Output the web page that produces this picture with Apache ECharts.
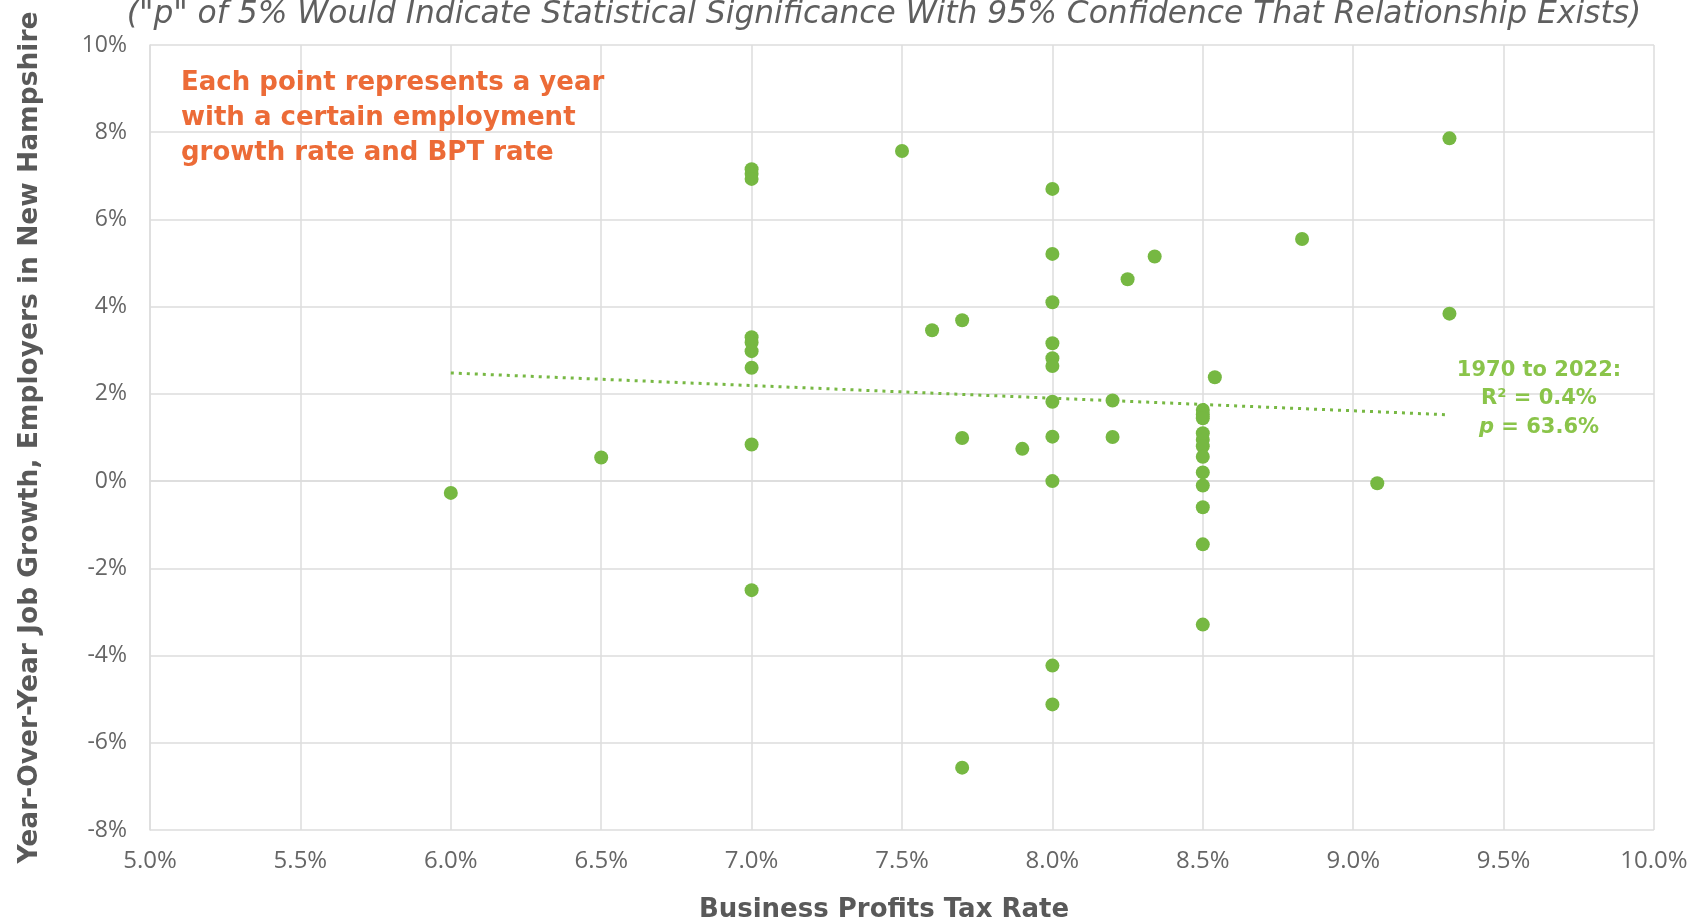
<!DOCTYPE html>
<html>
<head>
<meta charset="utf-8">
<script src="https://cdn.jsdelivr.net/npm/echarts@6/dist/echarts.min.js"></script>
<style>
html,body{margin:0;padding:0;background:#fff;}
#chart{width:1697px;height:922px;}
</style>
</head>
<body>
<div id="chart"></div>
<script>
// Business Profits Tax rate (%) for each year
const bptRate = [6.0, 6.5, 7.0, 7.0, 7.0, 7.0, 7.0, 7.0, 7.0, 7.0, 7.0, 7.5, 7.6, 7.7, 7.7, 7.7, 7.9,
  8.0, 8.0, 8.0, 8.0, 8.0, 8.0, 8.0, 8.0, 8.0, 8.0, 8.0,
  8.2, 8.2, 8.25, 8.34,
  8.5, 8.5, 8.5, 8.5, 8.5, 8.5, 8.5, 8.5, 8.5, 8.5, 8.5, 8.5,
  8.54, 8.83, 9.08, 9.32, 9.32];
// Year-over-year job growth (%) for each year
const jobGrowth = [-0.27, 0.54, 7.15, 7.05, 6.93, 3.30, 3.18, 2.98, 2.60, 0.84, -2.50, 7.57, 3.46, 3.69, 0.99, -6.57, 0.74,
  6.70, 5.21, 4.10, 3.16, 2.82, 2.64, 1.82, 1.02, 0.00, -4.23, -5.12,
  1.85, 1.01, 4.63, 5.15,
  1.63, 1.53, 1.44, 1.10, 0.95, 0.80, 0.56, 0.20, -0.10, -0.60, -1.45, -3.29,
  2.38, 5.55, -0.05, 7.86, 3.84];
// Linear trend line endpoints
const trendX = [6.0, 9.32];
const trendY = [2.48, 1.52];
// Axis ticks
const xTicks = [5.0, 5.5, 6.0, 6.5, 7.0, 7.5, 8.0, 8.5, 9.0, 9.5, 10.0];
const yTicks = [-8, -6, -4, -2, 0, 2, 4, 6, 8, 10];

const points = bptRate.map((x, i) => [x, jobGrowth[i]]);
const trend = trendX.map((x, i) => [x, trendY[i]]);

const chart = echarts.init(document.getElementById('chart'), null, {renderer: 'canvas'});
const gridColor = '#dcdcdc';
const FONT = '"Open Sans", "Noto Sans", sans-serif';
const WIDE = '"DejaVu Sans", "Open Sans", sans-serif';

chart.setOption({
  animation: false,
  backgroundColor: '#ffffff',
  grid: {left: 150, right: 43, top: 45, bottom: 92, containLabel: false, outerBoundsMode: 'none'},
  xAxis: {
    type: 'value',
    min: xTicks[0], max: xTicks[xTicks.length - 1], interval: 0.5,
    axisLine: {show: true, lineStyle: {color: gridColor, width: 1.5}},
    axisTick: {show: false},
    splitLine: {show: true, lineStyle: {color: gridColor, width: 1.5}},
    axisLabel: {color: '#666666', fontFamily: FONT, fontSize: 24, margin: 19,
      formatter: v => v.toFixed(1) + '%'},
    name: 'Business Profits Tax Rate', nameLocation: 'middle', nameGap: 67,
    nameTextStyle: {color: '#595959', fontFamily: WIDE, fontSize: 26, fontWeight: 'bold', padding: [0, 36, 0, 0]}
  },
  yAxis: {
    type: 'value',
    min: yTicks[0], max: yTicks[yTicks.length - 1], interval: 2,
    axisLine: {show: true, lineStyle: {color: gridColor, width: 1.5}},
    axisTick: {show: false},
    splitLine: {show: true, lineStyle: {color: gridColor, width: 1.5}},
    axisLabel: {color: '#666666', fontFamily: FONT, fontSize: 23, margin: 23,
      formatter: v => v + '%'},
    name: 'Year-Over-Year Job Growth, Employers in New Hampshire', nameLocation: 'middle', nameGap: 106,
    nameTextStyle: {color: '#595959', fontFamily: WIDE, fontSize: 26.5, fontWeight: 'bold'}
  },
  series: [
    {
      type: 'line',
      data: trend,
      symbol: 'none',
      lineStyle: {color: '#77b843', width: 3, type: [3, 5]},
      z: 2
    },
    {
      type: 'scatter',
      data: points,
      symbol: 'circle',
      symbolSize: 14,
      itemStyle: {color: '#76b842', opacity: 1},
      z: 3
    }
  ],
  graphic: [
    {
      type: 'text', x: 884, y: 15, z: 10,
      style: {
        text: '("p" of 5% Would Indicate Statistical Significance With 95% Confidence That Relationship Exists)',
        fill: '#5f5f5f', font: 'italic 31.3px ' + WIDE, align: 'center', verticalAlign: 'middle'
      }
    },
    {
      type: 'text', x: 181, y: 118, z: 10,
      style: {
        text: 'Each point represents a year\nwith a certain employment\ngrowth rate and BPT rate',
        fill: '#ec6b37', font: 'bold 26px ' + WIDE, lineHeight: 35, verticalAlign: 'middle'
      }
    },
    {
      type: 'text', x: 1539, y: 399, z: 10,
      style: {
        text: '{a|1970 to 2022:}\n{a|R² = 0.4%}\n{i|p}{a| = 63.6%}',
        align: 'center', verticalAlign: 'middle',
        lineHeight: 28.5,
        rich: {
          a: {fill: '#8ac44a', font: 'bold 21px ' + WIDE, lineHeight: 28.5},
          i: {fill: '#8ac44a', font: 'italic bold 21px ' + WIDE, lineHeight: 28.5}
        }
      }
    }
  ]
});
</script>
</body>
</html>
